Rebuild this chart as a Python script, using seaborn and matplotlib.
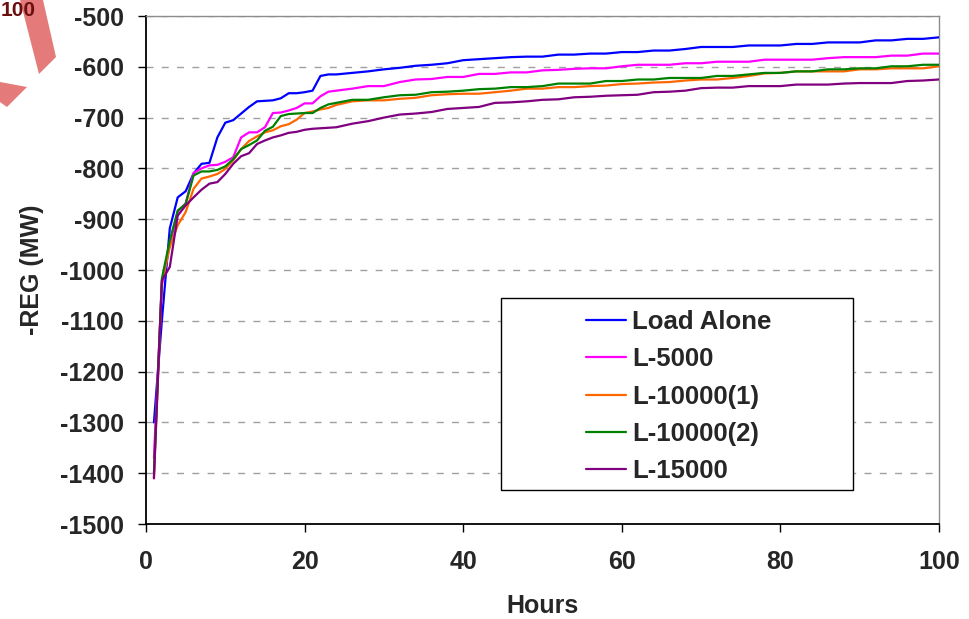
import numpy as np
import pandas as pd
import matplotlib
matplotlib.use("Agg")
import matplotlib.pyplot as plt
import seaborn as sns
from matplotlib.patches import Rectangle, Polygon
from matplotlib.lines import Line2D

# ---------------- data ----------------
hours = list(range(1, 25)) + list(range(26, 101, 2))

load_alone = [-1300, -1100, -918, -857, -845, -810, -791, -789, -739, -710, -705, -692,
              -679, -668, -667, -666, -662, -652, -652, -650, -647, -618, -615, -615,
              -612, -609, -605, -602, -598, -596, -593, -587, -585, -583,
              -581, -580, -580, -576, -576, -574, -574, -571, -571, -568,
              -568, -565, -561, -561, -561, -558, -558, -558, -555, -555,
              -552, -552, -552, -548, -548, -545, -545, -542]
l_5000 = [-1370, -1030, -950, -885, -869, -809, -800, -794, -793, -787, -778, -739,
          -729, -729, -719, -691, -690, -686, -681, -672, -672, -658, -649, -647,
          -643, -638, -638, -630, -625, -624, -620, -620, -614, -614,
          -611, -611, -607, -606, -604, -603, -603, -599, -596, -596,
          -596, -593, -593, -590, -590, -590, -586, -586, -586, -586,
          -583, -581, -581, -581, -578, -578, -574, -574]
l_10000_1 = [-1410, -1025, -955, -912, -886, -840, -820, -816, -811, -801, -784, -762,
             -746, -737, -729, -725, -717, -713, -704, -691, -688, -684, -681, -675,
             -668, -666, -666, -663, -661, -656, -654, -653, -653, -650,
             -647, -643, -643, -640, -640, -638, -637, -634, -633, -631,
             -630, -627, -625, -625, -622, -618, -613, -612, -609, -609,
             -609, -609, -605, -605, -603, -603, -603, -599]
l_10000_2 = [-1400, -1017, -942, -883, -870, -814, -806, -806, -803, -796, -782, -762,
             -754, -745, -726, -718, -697, -693, -692, -691, -691, -681, -674, -671,
             -665, -665, -660, -656, -655, -650, -649, -647, -644, -643,
             -640, -640, -638, -633, -633, -633, -628, -628, -625, -625,
             -622, -622, -622, -618, -618, -615, -612, -612, -609, -609,
             -605, -605, -603, -603, -599, -599, -596, -596]
l_15000 = [-1410, -1021, -994, -893, -873, -857, -842, -830, -827, -811, -791, -776,
           -770, -752, -745, -739, -735, -730, -728, -724, -722, -721, -720, -719,
           -712, -707, -700, -694, -692, -689, -683, -681, -679, -671,
           -670, -668, -665, -664, -660, -659, -657, -656, -655, -650,
           -649, -647, -642, -641, -641, -638, -638, -638, -635, -635,
           -635, -633, -632, -632, -632, -628, -627, -625]

series_names = ["Load Alone", "L-5000", "L-10000(1)", "L-10000(2)", "L-15000"]
series_colors = ["#0000FF", "#FF00FF", "#FF6600", "#008000", "#800080"]
x_ticks = [0, 20, 40, 60, 80, 100]
y_ticks = list(range(-1500, -499, 100))

# ---------------- style ----------------
sns.set_style("white")
plt.rcParams["font.family"] = ["Liberation Sans", "DejaVu Sans"]
plt.rcParams["font.weight"] = "bold"
plt.rcParams["axes.unicode_minus"] = False

frames = []
for name, vals in zip(series_names, [load_alone, l_5000, l_10000_1, l_10000_2, l_15000]):
    frames.append(pd.DataFrame({"Hours": hours, "REG": vals, "Series": name}))
df = pd.concat(frames, ignore_index=True)

W, H = 970, 619
fig = plt.figure(figsize=(W / 100, H / 100), dpi=100)
L, R, T, B = 146, 939, 16, 524
ax = fig.add_axes([L / W, 1 - B / H, (R - L) / W, (B - T) / H])

sns.lineplot(data=df, x="Hours", y="REG", hue="Series", hue_order=series_names,
             palette=dict(zip(series_names, series_colors)), linewidth=1.6,
             estimator=None, sort=False, legend=False, ax=ax, zorder=3)

ax.set_xlim(0, 100)
ax.set_ylim(-1500, -500)
ax.set_xticks(x_ticks)
ax.set_yticks(y_ticks)
ax.yaxis.grid(True, linestyle=(0, (5, 6)), color="#a0a0a0", linewidth=1)
ax.xaxis.grid(False)
ax.set_axisbelow(True)

for s in ["left", "bottom"]:
    ax.spines[s].set_color("black")
    ax.spines[s].set_linewidth(1.3)
for s in ["top", "right"]:
    ax.spines[s].set_color("#8c8c8c")
    ax.spines[s].set_linewidth(1.0)

ax.tick_params(axis="both", direction="out", length=6, width=1, color="black",
               labelsize=18, left=True, bottom=True)
ax.tick_params(axis="y", pad=10)
ax.tick_params(axis="x", pad=13)
for lab in ax.get_xticklabels() + ax.get_yticklabels():
    lab.set_fontweight("bold")

ax.set_xlabel("Hours", fontsize=18, fontweight="bold", labelpad=14)
ax.set_ylabel("-REG (MW)", fontsize=18, fontweight="bold", labelpad=11)

# legend box
bx0, bx1, by0, by1 = 501, 853, 298, 490
rect = Rectangle(((bx0 - L) / (R - L), (B - by1) / (B - T)),
                 (bx1 - bx0) / (R - L), (by1 - by0) / (B - T),
                 transform=ax.transAxes, facecolor="white", edgecolor="black",
                 linewidth=1.0, zorder=4)
ax.add_patch(rect)
handles = [Line2D([], [], color=c, linewidth=1.6) for c in series_colors]
cx = ((bx0 + bx1) / 2 + 2 - L) / (R - L)
cy = (B - ((by0 + by1) / 2 + 2.5)) / (B - T)
leg = ax.legend(handles, series_names, loc="center", bbox_to_anchor=(cx, cy),
                frameon=False, fontsize=18.5, handlelength=1.55, handletextpad=0.25,
                labelspacing=0.52, borderpad=0)
leg.set_zorder(5)
for t in leg.get_texts():
    t.set_fontweight("bold")

# stray fragment visible in the top-left corner of the source image
def fpoly(pts, **kw):
    return Polygon([(x / W, 1 - y / H) for x, y in pts], closed=True,
                   transform=fig.transFigure, **kw)

fig.patches.append(fpoly([(20, 0), (43, 0), (56, 57), (39, 74)],
                         facecolor="#e47a7a", edgecolor="none"))
fig.patches.append(fpoly([(0, 82), (27, 87), (7, 107), (0, 102)],
                         facecolor="#e47a7a", edgecolor="none"))
fig.text(1 / W, 1 - 11 / H, "100", ha="left", va="center", fontsize=15,
         fontweight="bold", color="#6b0f0f")

fig.savefig("out.png", dpi=100)
